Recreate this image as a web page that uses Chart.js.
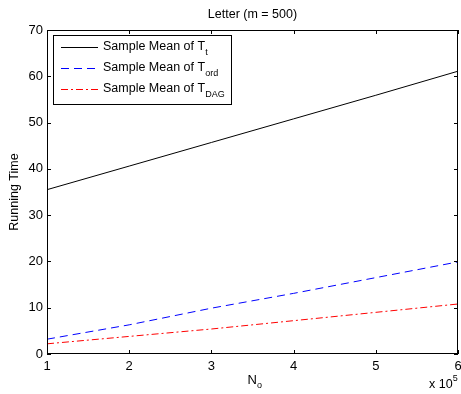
<!DOCTYPE html>
<html>
<head>
<meta charset="utf-8">
<script src="https://cdn.jsdelivr.net/npm/chart.js@4"></script>
<style>
  html, body { margin: 0; padding: 0; background: #fff; }
  #wrap { width: 461px; height: 394px; }
</style>
</head>
<body>
<div id="wrap"><canvas id="lineChart" width="461" height="394"></canvas></div>
<script>
var xValues = [1, 2, 3, 4, 5, 6];
var meanTt = [35.5, 40.6, 45.7, 50.8, 55.9, 61.1];
var meanTord = [3.2, 6.3, 9.9, 13.1, 16.5, 19.9];
var meanTdag = [2.2, 3.8, 5.4, 7.2, 9.0, 10.8];
var xTicks = [1, 2, 3, 4, 5, 6];
var yTicks = [0, 10, 20, 30, 40, 50, 60, 70];

var FONT = "Liberation Sans, Arial, sans-serif";

var legendItems = [
  { main: "Sample Mean of T", sub: "t", color: "#000000", dash: [] },
  { main: "Sample Mean of T", sub: "ord", color: "#0000ff", dash: [8, 5] },
  { main: "Sample Mean of T", sub: "DAG", color: "#ff0000", dash: [7, 3, 2, 3] }
];

function toPoints(ys) {
  return xValues.map(function (x, i) { return { x: x, y: ys[i] }; });
}

var matlabFrame = {
  id: "matlabFrame",
  afterDraw: function (chart) {
    var ctx = chart.ctx;
    var a = chart.chartArea;
    var xs = chart.scales.x, ys = chart.scales.y;
    ctx.save();
    ctx.strokeStyle = "#000";
    ctx.lineWidth = 1;
    ctx.setLineDash([]);
    ctx.strokeRect(Math.round(a.left) + 0.5, Math.round(a.top) + 0.5,
      Math.round(a.right - a.left) - 1, Math.round(a.bottom - a.top) - 1);
    ctx.beginPath();
    xTicks.forEach(function (t) {
      var px = Math.round(xs.getPixelForValue(t)) + 0.5;
      ctx.moveTo(px, a.bottom); ctx.lineTo(px, a.bottom - 4);
      ctx.moveTo(px, a.top); ctx.lineTo(px, a.top + 4);
    });
    yTicks.forEach(function (t) {
      var py = Math.round(ys.getPixelForValue(t)) + 0.5;
      ctx.moveTo(a.left, py); ctx.lineTo(a.left + 4, py);
      ctx.moveTo(a.right, py); ctx.lineTo(a.right - 4, py);
    });
    ctx.stroke();

    // title
    ctx.fillStyle = "#000";
    ctx.font = "12.5px " + FONT;
    ctx.textAlign = "center";
    ctx.textBaseline = "middle";
    ctx.fillText("Letter (m = 500)", (a.left + a.right) / 2, 15);

    // y label
    ctx.save();
    ctx.translate(15, (a.top + a.bottom) / 2);
    ctx.rotate(-Math.PI / 2);
    ctx.font = "12.5px " + FONT;
    ctx.fillText("Running Time", 0, 0);
    ctx.restore();

    // x label N_o
    ctx.font = "13px " + FONT;
    ctx.textAlign = "left";
    var cx = (a.left + a.right) / 2 - 5;
    ctx.fillText("N", cx, 380);
    var w = ctx.measureText("N").width;
    ctx.font = "9px " + FONT;
    ctx.fillText("o", cx + w, 386);

    // x 10^5
    ctx.font = "12.5px " + FONT;
    ctx.fillText("x 10", 429, 385);
    var w2 = ctx.measureText("x 10").width;
    ctx.font = "9px " + FONT;
    ctx.fillText("5", 429 + w2, 379);

    // legend
    var lx = 53, ly = 35, lw = 178, lh = 69;
    ctx.fillStyle = "#fff";
    ctx.fillRect(lx, ly, lw, lh);
    ctx.lineWidth = 1;
    ctx.strokeStyle = "#000";
    ctx.strokeRect(lx + 0.5, ly + 0.5, lw, lh);
    legendItems.forEach(function (it, i) {
      var y = ly + 12 + i * 21;
      ctx.beginPath();
      ctx.strokeStyle = it.color;
      ctx.setLineDash(it.dash);
      ctx.moveTo(61, y + 0.5);
      ctx.lineTo(98, y + 0.5);
      ctx.stroke();
      ctx.setLineDash([]);
      ctx.fillStyle = "#000";
      ctx.font = "12.5px " + FONT;
      ctx.textAlign = "left";
      ctx.fillText(it.main, 103, y);
      var mw = ctx.measureText(it.main).width;
      ctx.font = "9px " + FONT;
      ctx.fillText(it.sub, 103 + mw, y + 6);
    });
    ctx.restore();
  }
};

var ctxL = document.getElementById("lineChart").getContext("2d");
var myLineChart = new Chart(ctxL, {
  type: "line",
  data: {
    datasets: [
      { label: "Sample Mean of Tt", data: toPoints(meanTt), borderColor: "#000000", borderWidth: 1, pointRadius: 0, fill: false },
      { label: "Sample Mean of Tord", data: toPoints(meanTord), borderColor: "#0000ff", borderWidth: 1, borderDash: [8, 5], pointRadius: 0, fill: false },
      { label: "Sample Mean of TDAG", data: toPoints(meanTdag), borderColor: "#ff0000", borderWidth: 1, borderDash: [7, 3, 2, 3], pointRadius: 0, fill: false }
    ]
  },
  options: {
    responsive: false,
    animation: false,
    devicePixelRatio: 1,
    layout: { padding: { top: 30, right: 3, left: 0, bottom: 0 } },
    plugins: { legend: { display: false }, title: { display: false }, tooltip: { enabled: false } },
    scales: {
      x: {
        type: "linear", min: 1, max: 6,
        afterBuildTicks: function (s) { s.ticks = xTicks.map(function (v) { return { value: v }; }); },
        afterFit: function (s) { s.height = 40; s.paddingLeft = 0; s.paddingRight = 0; },
        grid: { display: false, drawTicks: false },
        border: { display: false },
        ticks: { color: "#000", font: { family: FONT, size: 13 }, padding: 5, maxRotation: 0 }
      },
      y: {
        type: "linear", min: 0, max: 70,
        afterBuildTicks: function (s) { s.ticks = yTicks.map(function (v) { return { value: v }; }); },
        afterFit: function (s) { s.width = 47; s.paddingTop = 0; s.paddingBottom = 0; },
        grid: { display: false, drawTicks: false },
        border: { display: false },
        ticks: { color: "#000", font: { family: FONT, size: 13 }, padding: 4 }
      }
    }
  },
  plugins: [matlabFrame]
});
</script>
</body>
</html>
